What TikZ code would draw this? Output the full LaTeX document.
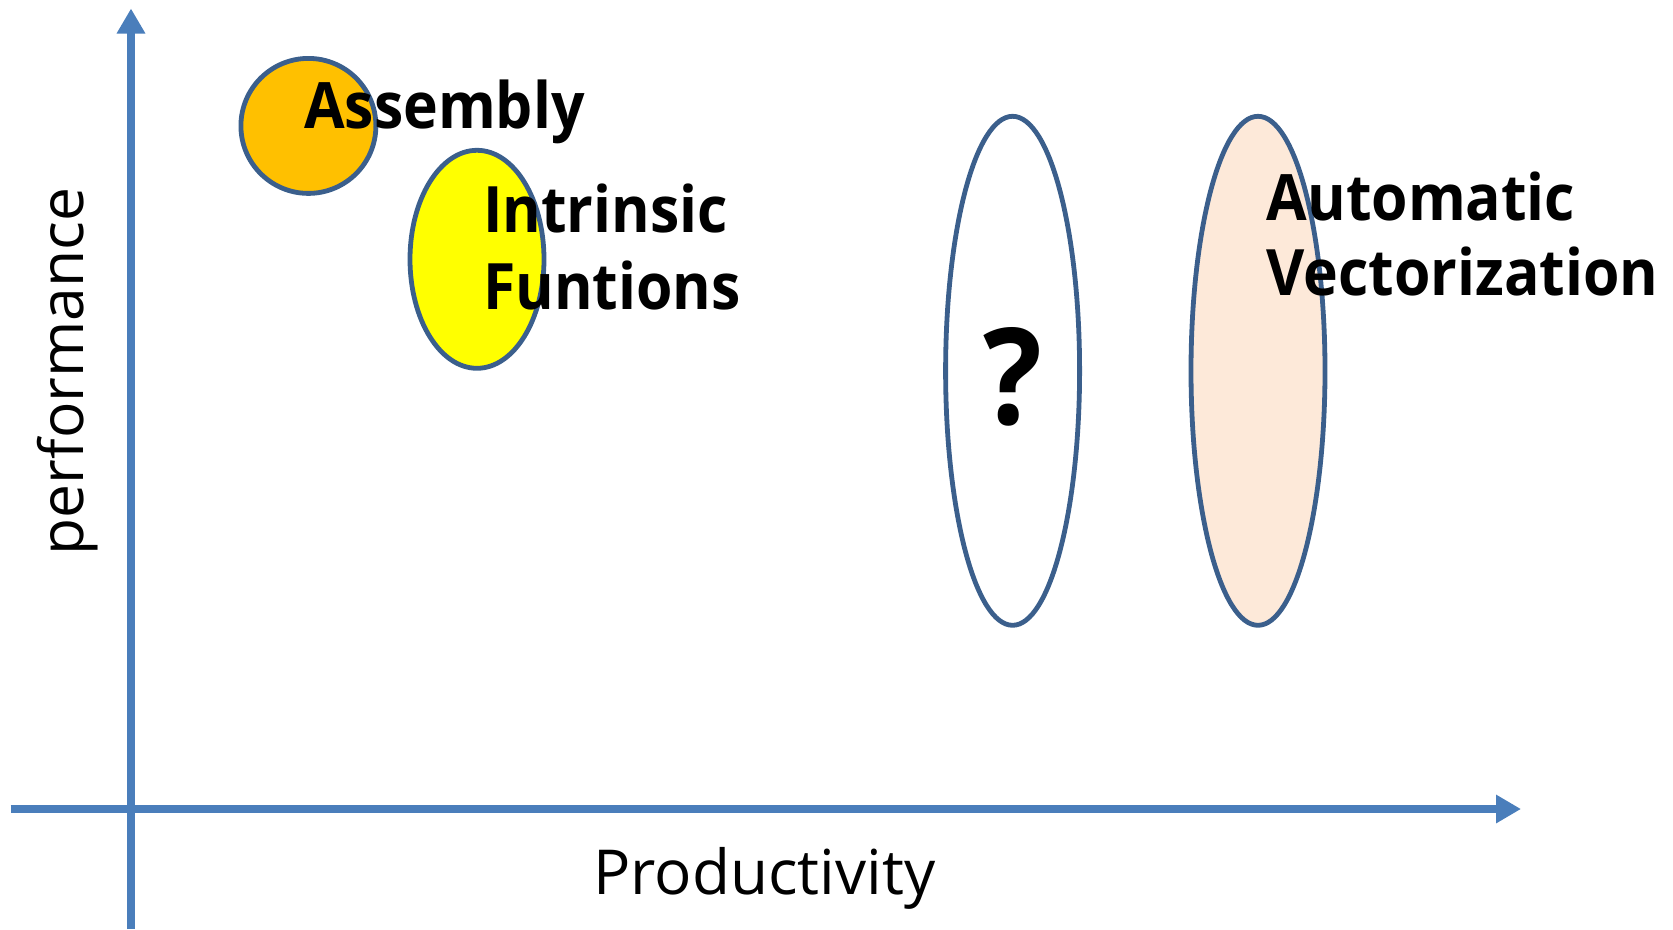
\documentclass[tikz,border=0pt]{standalone}
\usepackage{fontspec}
\setmainfont{Open Sans}
\newfontfamily\boldnarrow[FakeStretch=0.92]{Open Sans Bold}
\usetikzlibrary{arrows.meta,shapes.geometric}
\definecolor{axisblue}{HTML}{4A7EBB}
\definecolor{outline}{HTML}{3B5F8C}
\definecolor{orangefill}{HTML}{FFC000}
\definecolor{yellowfill}{HTML}{FFFF00}
\definecolor{peachfill}{HTML}{FDE9D9}
\tikzset{
  axis/.style={draw=axisblue, line width=8pt, -{Triangle[length=25pt,width=27pt]}},
  blob/.style={ellipse, draw=outline, line width=4.8pt, inner sep=0pt},
  bigbold/.style={inner sep=0pt, font=\fontsize{64}{77}\selectfont\boldnarrow},
  axislabel/.style={inner sep=0pt},
}
\begin{document}
\begin{tikzpicture}[x=1pt,y=-1pt]
\useasboundingbox (0,0) rectangle (1673,929);
\coordinate (ybot) at (131,929);
\coordinate (ytop) at (131,8.5);
\coordinate (xleft) at (10.7,809);
\coordinate (xright) at (1521,809);
\draw[axis] (ybot) -- (ytop);
\draw[axis] (xleft) -- (xright);

\node[blob, fill=orangefill, minimum width=135pt, minimum height=135pt] (asm) at (308.4,125.9) {};
\node[blob, fill=yellowfill, minimum width=134pt, minimum height=218pt] (intr) at (477,259.3) {};
\node[blob, fill=white, minimum width=134pt, minimum height=509pt] (q) at (1012.6,370.8) {};
\node[blob, fill=peachfill, minimum width=134pt, minimum height=509pt] (auto) at (1258,370.8) {};

\node[bigbold, anchor=base west] (tasm) at (304,128) {Assembly};
\node[bigbold, anchor=base west] (tintr1) at (483,232.6) {Intrinsic};
\node[bigbold, anchor=base west] (tintr2) at (483,309.4) {Funtions};
\node[bigbold, anchor=base west] (tauto1) at (1266.5,220) {Automatic};
\node[bigbold, anchor=base west] (tauto2) at (1266.5,295.5) {Vectorization};
\node[inner sep=0pt, anchor=base, font=\fontsize{134}{150}\selectfont\boldnarrow] (tq) at (1012.6,424) {?};

\node[axislabel, anchor=base, font=\fontsize{62}{72}\selectfont] (prod) at (764.5,894) {Productivity};
\node[axislabel, anchor=base, rotate=90, font=\fontsize{60.5}{72}\selectfont] (perf) at (83.3,371.5) {performance};
\end{tikzpicture}
\end{document}
